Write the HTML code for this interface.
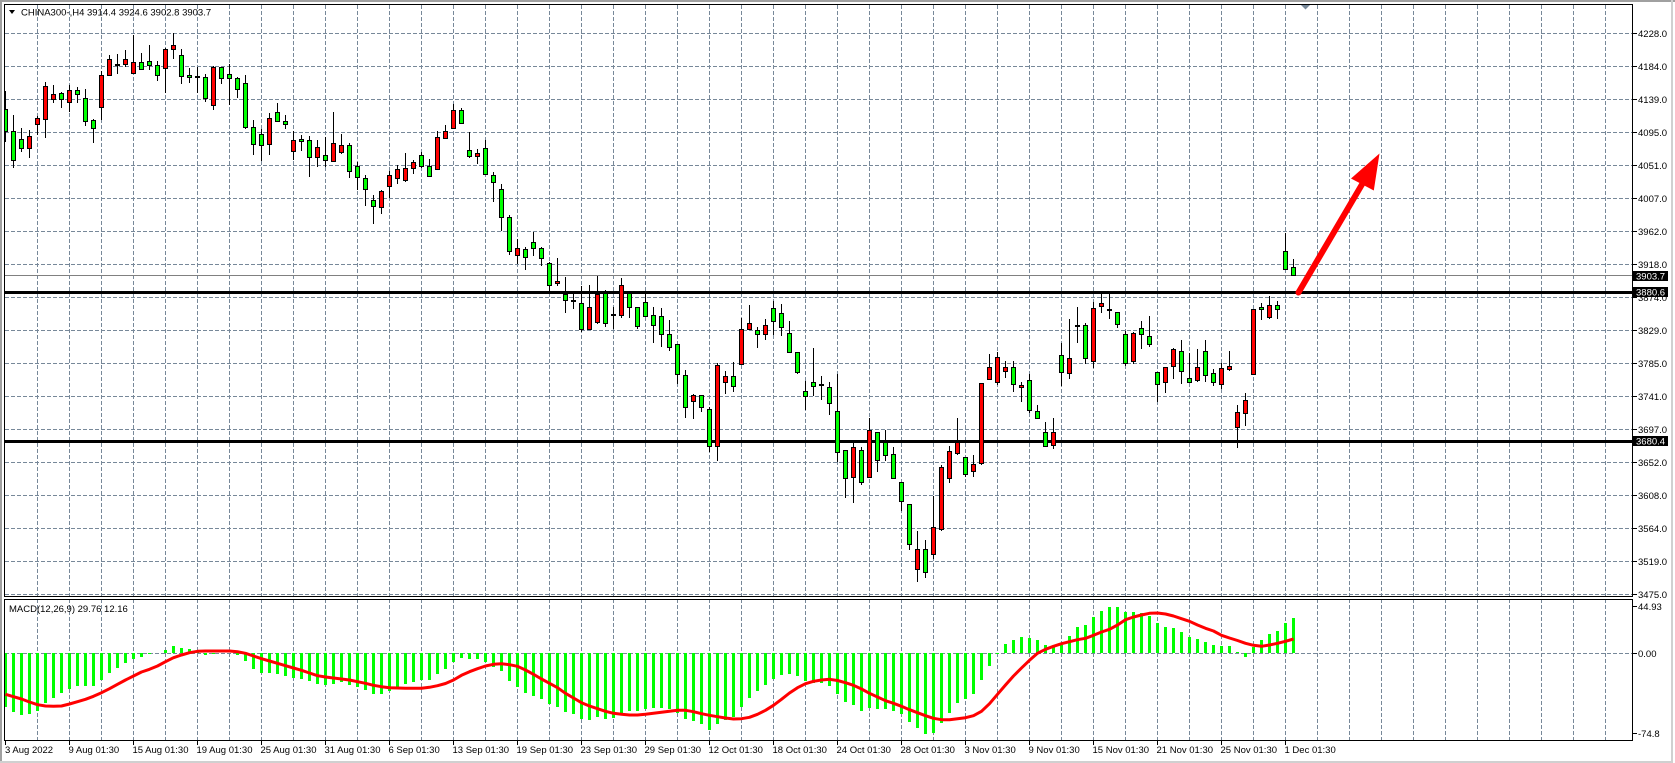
<!DOCTYPE html>
<html><head><meta charset="utf-8"><style>
html,body{margin:0;padding:0;background:#fff;}
svg{display:block;}
text{font-family:"Liberation Sans",sans-serif;font-size:9.5px;fill:#000;}
</style></head><body>
<svg width="1675" height="763" viewBox="0 0 1675 763" xmlns="http://www.w3.org/2000/svg">
<rect x="0" y="0" width="1675" height="763" fill="#fff"/>
<rect x="0" y="0" width="1675" height="2" fill="#a0a0a0"/>
<rect x="0" y="0" width="2" height="763" fill="#a0a0a0"/>
<rect x="1671" y="0" width="2" height="763" fill="#d0d0d0"/>
<rect x="0" y="761" width="1673" height="2" fill="#d0d0d0"/>

<!-- grid -->
<g stroke="#778899" stroke-width="1" stroke-dasharray="4,2" fill="none">
<path d="M37.5 5V740M69.5 5V740M101.5 5V740M133.5 5V740M165.5 5V740M197.5 5V740M229.5 5V740M261.5 5V740M293.5 5V740M325.5 5V740M357.5 5V740M389.5 5V740M421.5 5V740M453.5 5V740M485.5 5V740M517.5 5V740M549.5 5V740M581.5 5V740M613.5 5V740M645.5 5V740M677.5 5V740M709.5 5V740M741.5 5V740M773.5 5V740M805.5 5V740M837.5 5V740M869.5 5V740M901.5 5V740M933.5 5V740M965.5 5V740M997.5 5V740M1029.5 5V740M1061.5 5V740M1093.5 5V740M1125.5 5V740M1157.5 5V740M1189.5 5V740M1221.5 5V740M1253.5 5V740M1285.5 5V740M1317.5 5V740M1349.5 5V740M1381.5 5V740M1413.5 5V740M1445.5 5V740M1477.5 5V740M1509.5 5V740M1541.5 5V740M1573.5 5V740M1605.5 5V740"/>
<path d="M5 33.5H1632M5 66.5H1632M5 99.5H1632M5 132.5H1632M5 165.5H1632M5 198.5H1632M5 231.5H1632M5 264.5H1632M5 297.5H1632M5 330.5H1632M5 363.5H1632M5 396.5H1632M5 429.5H1632M5 462.5H1632M5 495.5H1632M5 528.5H1632M5 561.5H1632M5 594.5H1632M5 653.5H1632"/>
</g>
<rect x="5" y="597" width="1627" height="2" fill="#fff"/>

<!-- level lines -->
<rect x="5" y="275" width="1628" height="1" fill="#808080"/>
<rect x="5" y="291" width="1628" height="3" fill="#000"/>
<rect x="5" y="440" width="1628" height="3" fill="#000"/>

<!-- candles -->
<svg x="5" y="5" width="1627" height="591" viewBox="5 5 1627 591" overflow="hidden">
<path fill="none" stroke="#000" stroke-width="1" d="M5.5 91V142M13.5 115V168M21.5 128V152M29.5 130V158M37.5 116V135M45.5 82V138M53.5 85V103M61.5 92V108M69.5 85V112M77.5 87V103M85.5 89V126M93.5 119V143M101.5 71V120M109.5 55V75M117.5 54V74M125.5 50V67M133.5 35V73M141.5 53V70M149.5 45V70M157.5 61V81M165.5 48V93M173.5 33V59M181.5 49V84M189.5 68V83M197.5 67V93M205.5 74V102M213.5 66V110M221.5 67V84M229.5 64V105M237.5 77V98M245.5 75V129M253.5 120V155M261.5 129V161M269.5 113V155M277.5 103V122M285.5 115V129M293.5 131V160M301.5 135V151M309.5 136V177M317.5 140V167M325.5 137V167M333.5 112V162M341.5 134V154M349.5 143V178M357.5 162V190M365.5 175V206M373.5 195V224M381.5 190V214M389.5 171V198M397.5 165V184M405.5 153V182M413.5 160V174M421.5 152V168M429.5 159V177M437.5 131V170M445.5 125V138M453.5 104V128M461.5 108V124M469.5 132V158M477.5 149V164M485.5 140V175M493.5 172V202M501.5 184V231M509.5 215V255M517.5 239V264M525.5 247V270M533.5 232V256M541.5 247V266M549.5 262V291M557.5 258V286M565.5 277V313M573.5 294V309M581.5 286V332M589.5 285V330M597.5 276V324M605.5 290V327M613.5 307V329M621.5 278V318M629.5 291V318M637.5 307V329M645.5 294V317M653.5 307V343M661.5 308V347M669.5 320V351M677.5 344V384M685.5 370V418M693.5 394V419M701.5 395V412M709.5 407V452M717.5 363V461M725.5 371V394M733.5 362V392M741.5 318V364M749.5 305V330M757.5 327V348M765.5 319V340M773.5 301V335M781.5 304V336M789.5 321V352M797.5 352V374M805.5 381V410M813.5 348V396M821.5 376V400M829.5 382V415M837.5 374V462M845.5 450V498M853.5 442V503M861.5 447V485M869.5 418V477M877.5 432V472M885.5 430V461M893.5 447V479M901.5 482V511M909.5 504V550M917.5 531V582M925.5 540V578M933.5 496V559M941.5 465V531M949.5 446V483M957.5 418V455M965.5 457V477M973.5 455V477M981.5 383V465M989.5 354V379M997.5 352V385M1005.5 361V378M1013.5 361V392M1021.5 382V402M1029.5 374V413M1037.5 405V418M1045.5 422V447M1053.5 418V449M1061.5 343V386M1069.5 319V379M1077.5 307V343M1085.5 323V364M1093.5 302V368M1101.5 293V313M1109.5 293V319M1117.5 312V328M1125.5 331V366M1133.5 332V364M1141.5 321V349M1149.5 316V347M1157.5 372V402M1165.5 367V393M1173.5 348V379M1181.5 340V384M1189.5 353V383M1197.5 349V382M1205.5 340V382M1213.5 369V386M1221.5 363V389M1229.5 351V371M1237.5 405V448M1245.5 393V426M1253.5 309V374M1261.5 303V320M1269.5 296V319M1277.5 301V319M1285.5 233V270M1293.5 259V275"/>
<path fill="#000" d="M115 64h5v2h-5zM195 76h5v2h-5zM571 300h5v2h-5zM611 314h5v2h-5zM819 384h5v2h-5zM1075 325h5v2h-5zM1107 309h5v2h-5z"/>
<path fill="#00ff00" stroke="#000" stroke-width="1" d="M3.5 109.5h4v22h-4zM11.5 131.5h4v29h-4zM19.5 139.5h4v9h-4zM59.5 93.5h4v6h-4zM75.5 90.5h4v4h-4zM83.5 98.5h4v23h-4zM91.5 120.5h4v8h-4zM139.5 62.5h4v7h-4zM147.5 61.5h4v4h-4zM155.5 65.5h4v10h-4zM179.5 55.5h4v21h-4zM187.5 75.5h4v2h-4zM203.5 77.5h4v21h-4zM219.5 67.5h4v11h-4zM227.5 74.5h4v4h-4zM235.5 78.5h4v11h-4zM243.5 83.5h4v44h-4zM251.5 127.5h4v17h-4zM259.5 134.5h4v11h-4zM275.5 112.5h4v9h-4zM283.5 121.5h4v3h-4zM299.5 139.5h4v2h-4zM307.5 140.5h4v17h-4zM323.5 155.5h4v5h-4zM347.5 145.5h4v26h-4zM355.5 166.5h4v11h-4zM363.5 178.5h4v11h-4zM371.5 200.5h4v6h-4zM419.5 155.5h4v11h-4zM427.5 166.5h4v10h-4zM459.5 110.5h4v13h-4zM467.5 150.5h4v6h-4zM483.5 148.5h4v26h-4zM491.5 175.5h4v7h-4zM499.5 189.5h4v28h-4zM507.5 217.5h4v34h-4zM523.5 249.5h4v8h-4zM531.5 242.5h4v6h-4zM539.5 248.5h4v10h-4zM547.5 263.5h4v22h-4zM563.5 294.5h4v6h-4zM579.5 303.5h4v26h-4zM603.5 293.5h4v30h-4zM627.5 293.5h4v14h-4zM635.5 307.5h4v19h-4zM643.5 302.5h4v14h-4zM651.5 315.5h4v10h-4zM659.5 316.5h4v18h-4zM667.5 334.5h4v13h-4zM675.5 344.5h4v30h-4zM683.5 375.5h4v32h-4zM699.5 395.5h4v12h-4zM707.5 409.5h4v37h-4zM731.5 376.5h4v10h-4zM755.5 330.5h4v4h-4zM771.5 308.5h4v13h-4zM779.5 313.5h4v14h-4zM787.5 333.5h4v19h-4zM795.5 352.5h4v20h-4zM803.5 391.5h4v5h-4zM811.5 382.5h4v4h-4zM827.5 387.5h4v16h-4zM835.5 411.5h4v41h-4zM843.5 450.5h4v28h-4zM859.5 450.5h4v32h-4zM875.5 432.5h4v28h-4zM883.5 442.5h4v13h-4zM891.5 454.5h4v24h-4zM899.5 482.5h4v19h-4zM907.5 504.5h4v40h-4zM923.5 549.5h4v23h-4zM963.5 457.5h4v17h-4zM1011.5 367.5h4v17h-4zM1027.5 380.5h4v30h-4zM1035.5 411.5h4v7h-4zM1043.5 432.5h4v14h-4zM1059.5 355.5h4v17h-4zM1083.5 325.5h4v33h-4zM1115.5 312.5h4v12h-4zM1123.5 334.5h4v29h-4zM1139.5 328.5h4v6h-4zM1147.5 336.5h4v8h-4zM1155.5 372.5h4v12h-4zM1179.5 351.5h4v20h-4zM1187.5 378.5h4v4h-4zM1203.5 351.5h4v24h-4zM1211.5 373.5h4v9h-4zM1259.5 307.5h4v2h-4zM1275.5 305.5h4v4h-4zM1283.5 251.5h4v18h-4zM1291.5 267.5h4v8h-4z"/>
<path fill="#ff0000" stroke="#000" stroke-width="1" d="M27.5 136.5h4v12h-4zM35.5 118.5h4v6h-4zM43.5 86.5h4v33h-4zM51.5 94.5h4v5h-4zM67.5 90.5h4v12h-4zM99.5 75.5h4v32h-4zM107.5 59.5h4v16h-4zM123.5 59.5h4v5h-4zM131.5 62.5h4v11h-4zM163.5 49.5h4v19h-4zM171.5 45.5h4v4h-4zM211.5 67.5h4v38h-4zM267.5 118.5h4v26h-4zM291.5 140.5h4v11h-4zM315.5 147.5h4v10h-4zM331.5 143.5h4v18h-4zM339.5 145.5h4v7h-4zM379.5 191.5h4v16h-4zM387.5 175.5h4v11h-4zM395.5 169.5h4v9h-4zM403.5 168.5h4v12h-4zM411.5 162.5h4v6h-4zM435.5 137.5h4v32h-4zM443.5 131.5h4v7h-4zM451.5 110.5h4v18h-4zM475.5 153.5h4v3h-4zM515.5 248.5h4v7h-4zM555.5 281.5h4v2h-4zM587.5 307.5h4v22h-4zM595.5 294.5h4v28h-4zM619.5 285.5h4v30h-4zM691.5 395.5h4v6h-4zM715.5 365.5h4v81h-4zM723.5 376.5h4v6h-4zM739.5 329.5h4v35h-4zM747.5 323.5h4v6h-4zM763.5 325.5h4v9h-4zM851.5 447.5h4v30h-4zM867.5 430.5h4v47h-4zM915.5 549.5h4v20h-4zM931.5 527.5h4v27h-4zM939.5 467.5h4v62h-4zM947.5 451.5h4v27h-4zM955.5 442.5h4v11h-4zM971.5 464.5h4v7h-4zM979.5 383.5h4v80h-4zM987.5 367.5h4v12h-4zM995.5 357.5h4v25h-4zM1003.5 367.5h4v4h-4zM1019.5 385.5h4v2h-4zM1051.5 432.5h4v13h-4zM1067.5 358.5h4v15h-4zM1091.5 308.5h4v53h-4zM1099.5 303.5h4v3h-4zM1131.5 333.5h4v28h-4zM1163.5 367.5h4v15h-4zM1171.5 349.5h4v17h-4zM1195.5 367.5h4v13h-4zM1219.5 368.5h4v16h-4zM1227.5 366.5h4v3h-4zM1235.5 412.5h4v15h-4zM1243.5 400.5h4v13h-4zM1251.5 309.5h4v65h-4zM1267.5 305.5h4v12h-4z"/>
</svg>

<!-- MACD histogram -->
<path fill="#00ff00" d="M4 653h3V707h-3zM12 653h3V712h-3zM20 653h3V715h-3zM28 653h3V714h-3zM36 653h3V711h-3zM44 653h3V703h-3zM52 653h3V698h-3zM60 653h3V693h-3zM68 653h3V689h-3zM76 653h3V686h-3zM84 653h3V686h-3zM92 653h3V686h-3zM100 653h3V680h-3zM108 653h3V673h-3zM116 653h3V668h-3zM124 653h3V663h-3zM132 653h3V659h-3zM140 653h3V657h-3zM148 653h3V654h-3zM164 653h3V650h-3zM172 653h3V646h-3zM180 653h3V648h-3zM188 653h3V649h-3zM196 653h3V651h-3zM204 653h3V655h-3zM212 653h3V654h-3zM236 653h3V655h-3zM244 653h3V661h-3zM252 653h3V669h-3zM260 653h3V673h-3zM268 653h3V673h-3zM276 653h3V674h-3zM284 653h3V676h-3zM292 653h3V678h-3zM300 653h3V679h-3zM308 653h3V681h-3zM316 653h3V684h-3zM324 653h3V685h-3zM332 653h3V684h-3zM340 653h3V682h-3zM348 653h3V685h-3zM356 653h3V687h-3zM364 653h3V690h-3zM372 653h3V694h-3zM380 653h3V694h-3zM388 653h3V691h-3zM396 653h3V687h-3zM404 653h3V684h-3zM412 653h3V682h-3zM420 653h3V680h-3zM428 653h3V680h-3zM436 653h3V674h-3zM444 653h3V669h-3zM452 653h3V662h-3zM460 653h3V658h-3zM468 653h3V659h-3zM476 653h3V659h-3zM484 653h3V662h-3zM492 653h3V667h-3zM500 653h3V671h-3zM508 653h3V681h-3zM516 653h3V687h-3zM524 653h3V693h-3zM532 653h3V696h-3zM540 653h3V699h-3zM548 653h3V704h-3zM556 653h3V707h-3zM564 653h3V712h-3zM572 653h3V714h-3zM580 653h3V719h-3zM588 653h3V720h-3zM596 653h3V717h-3zM604 653h3V719h-3zM612 653h3V718h-3zM620 653h3V715h-3zM628 653h3V711h-3zM636 653h3V711h-3zM644 653h3V709h-3zM652 653h3V708h-3zM660 653h3V708h-3zM668 653h3V709h-3zM676 653h3V713h-3zM684 653h3V719h-3zM692 653h3V721h-3zM700 653h3V724h-3zM708 653h3V730h-3zM716 653h3V724h-3zM724 653h3V720h-3zM732 653h3V717h-3zM740 653h3V707h-3zM748 653h3V698h-3zM756 653h3V691h-3zM764 653h3V685h-3zM772 653h3V679h-3zM780 653h3V675h-3zM788 653h3V674h-3zM796 653h3V676h-3zM804 653h3V681h-3zM812 653h3V683h-3zM820 653h3V683h-3zM828 653h3V686h-3zM836 653h3V694h-3zM844 653h3V702h-3zM852 653h3V705h-3zM860 653h3V711h-3zM868 653h3V708h-3zM876 653h3V709h-3zM884 653h3V709h-3zM892 653h3V711h-3zM900 653h3V714h-3zM908 653h3V722h-3zM916 653h3V728h-3zM924 653h3V734h-3zM932 653h3V733h-3zM940 653h3V723h-3zM948 653h3V713h-3zM956 653h3V703h-3zM964 653h3V699h-3zM972 653h3V694h-3zM980 653h3V680h-3zM988 653h3V666h-3zM996 653h3V654h-3zM1004 653h3V644h-3zM1012 653h3V640h-3zM1020 653h3V637h-3zM1028 653h3V638h-3zM1036 653h3V640h-3zM1044 653h3V645h-3zM1052 653h3V646h-3zM1060 653h3V645h-3zM1068 653h3V636h-3zM1076 653h3V627h-3zM1084 653h3V625h-3zM1092 653h3V617h-3zM1100 653h3V611h-3zM1108 653h3V607h-3zM1116 653h3V607h-3zM1124 653h3V612h-3zM1132 653h3V612h-3zM1140 653h3V613h-3zM1148 653h3V616h-3zM1156 653h3V623h-3zM1164 653h3V627h-3zM1172 653h3V628h-3zM1180 653h3V632h-3zM1188 653h3V637h-3zM1196 653h3V639h-3zM1204 653h3V642h-3zM1212 653h3V645h-3zM1220 653h3V646h-3zM1228 653h3V646h-3zM1236 653h3V652h-3zM1244 653h3V657h-3zM1252 653h3V647h-3zM1260 653h3V640h-3zM1268 653h3V634h-3zM1276 653h3V631h-3zM1284 653h3V623h-3zM1292 653h3V618h-3z"/>

<!-- MACD signal -->
<polyline fill="none" stroke="#ff0000" stroke-width="3" stroke-linejoin="round" points="5.5,694.3 13.5,696.7 21.5,699 29.5,702 37.5,704.7 45.5,706 53.5,706.3 61.5,706 69.5,704 77.5,701.7 85.5,699.3 93.5,696.3 101.5,692.7 109.5,688.7 117.5,684.3 125.5,680 133.5,676 141.5,672 149.5,669.3 157.5,666 165.5,661.7 173.5,657.7 181.5,655 189.5,652.7 197.5,651.3 205.5,651 213.5,651 221.5,651 229.5,651 237.5,651.7 245.5,653.3 253.5,656 261.5,658.7 269.5,661 277.5,663.3 285.5,665.7 293.5,668 301.5,670.3 309.5,673 317.5,675.7 325.5,677 333.5,678 341.5,679 349.5,680 357.5,681.7 365.5,683.3 373.5,685.3 381.5,686.7 389.5,687.7 397.5,688 405.5,688.3 413.5,688.3 421.5,688.3 429.5,687.3 437.5,685.7 445.5,683.5 453.5,680 461.5,675.3 469.5,671.7 477.5,668.7 485.5,666 493.5,664.3 501.5,663.7 509.5,664.7 517.5,666.3 525.5,670 533.5,674.3 541.5,679 549.5,683.3 557.5,687.7 565.5,693.3 573.5,698 581.5,702.7 589.5,706 597.5,708.7 605.5,711.3 613.5,713.3 621.5,714.3 629.5,715 637.5,715 645.5,714.3 653.5,713.3 661.5,712.3 669.5,711.3 677.5,710.3 685.5,710.3 693.5,711.7 701.5,713.7 709.5,715.3 717.5,716.7 725.5,718 733.5,719 741.5,718.7 749.5,717.3 757.5,714.3 765.5,710.3 773.5,705.3 781.5,699.3 789.5,693 797.5,687.7 805.5,683.7 813.5,681.3 821.5,680 829.5,679.3 837.5,680.5 845.5,682.7 853.5,685.3 861.5,689 869.5,693.3 877.5,697 885.5,700.7 893.5,703.3 901.5,706.3 909.5,709.7 917.5,712.7 925.5,715.7 933.5,718.3 941.5,719.7 949.5,719.7 957.5,718.7 965.5,717.7 973.5,715.7 981.5,711.3 989.5,703.7 997.5,694.3 1005.5,685 1013.5,676 1021.5,668 1029.5,660.3 1037.5,653.3 1045.5,649.3 1053.5,646.3 1061.5,643.7 1069.5,641.7 1077.5,639.7 1085.5,638.3 1093.5,635.3 1101.5,632 1109.5,629.3 1117.5,625 1125.5,619.7 1133.5,617 1141.5,615 1149.5,613.3 1157.5,613 1165.5,614 1173.5,616 1181.5,618.7 1189.5,621.3 1197.5,625 1205.5,628.3 1213.5,631 1221.5,635.3 1229.5,638 1237.5,640.5 1245.5,643.3 1253.5,645.3 1261.5,646.3 1269.5,645 1277.5,643.3 1285.5,641.3 1293.5,639"/>

<!-- arrow -->
<line x1="1298.5" y1="292.5" x2="1364" y2="181" stroke="#ff0000" stroke-width="6" stroke-linecap="round"/>
<polygon points="1379.5,153.5 1351,178.5 1373.8,190.5" fill="#ff0000"/>

<!-- shift marker -->
<polygon points="1301,5 1310,5 1305.5,9.5" fill="#778899"/>

<!-- panel borders -->
<rect x="4.5" y="4.5" width="1628" height="592" fill="none" stroke="#000" stroke-width="1"/>
<rect x="4.5" y="599.5" width="1628" height="141" fill="none" stroke="#000" stroke-width="1"/>

<!-- axis ticks -->
<path stroke="#000" stroke-width="1" fill="none" d="M1633 33.5h4M1633 66.5h4M1633 99.5h4M1633 132.5h4M1633 165.5h4M1633 198.5h4M1633 231.5h4M1633 264.5h4M1633 297.5h4M1633 330.5h4M1633 363.5h4M1633 396.5h4M1633 429.5h4M1633 462.5h4M1633 495.5h4M1633 528.5h4M1633 561.5h4M1633 594.5h4M1633 606.5h4M1633 653.5h4M1633 733.5h4M5.5 741v4M69.5 741v4M133.5 741v4M197.5 741v4M261.5 741v4M325.5 741v4M389.5 741v4M453.5 741v4M517.5 741v4M581.5 741v4M645.5 741v4M709.5 741v4M773.5 741v4M837.5 741v4M901.5 741v4M965.5 741v4M1029.5 741v4M1093.5 741v4M1157.5 741v4M1221.5 741v4M1285.5 741v4"/>

<!-- price labels -->
<g>
<text x="1638" y="37">4228.0</text>
<text x="1638" y="70">4184.0</text>
<text x="1638" y="103">4139.0</text>
<text x="1638" y="136">4095.0</text>
<text x="1638" y="169">4051.0</text>
<text x="1638" y="202">4007.0</text>
<text x="1638" y="235">3962.0</text>
<text x="1638" y="268">3918.0</text>
<text x="1638" y="301">3874.0</text>
<text x="1638" y="334">3829.0</text>
<text x="1638" y="367">3785.0</text>
<text x="1638" y="400">3741.0</text>
<text x="1638" y="433">3697.0</text>
<text x="1638" y="466">3652.0</text>
<text x="1638" y="499">3608.0</text>
<text x="1638" y="532">3564.0</text>
<text x="1638" y="565">3519.0</text>
<text x="1638" y="598">3475.0</text>
<text x="1638" y="610">44.93</text>
<text x="1638" y="657">0.00</text>
<text x="1638" y="737">-74.8</text>
</g>
<rect x="1633" y="271" width="35" height="10" fill="#000"/>
<text x="1636" y="279.5" style="fill:#fff">3903.7</text>
<rect x="1633" y="287" width="35" height="10" fill="#000"/>
<text x="1636" y="295.5" style="fill:#fff">3880.6</text>
<rect x="1633" y="436" width="35" height="10" fill="#000"/>
<text x="1636" y="444.5" style="fill:#fff">3680.4</text>

<!-- date labels -->
<g>
<text x="5" y="753">3 Aug 2022</text>
<text x="68.5" y="753">9 Aug 01:30</text>
<text x="132.5" y="753">15 Aug 01:30</text>
<text x="196.5" y="753">19 Aug 01:30</text>
<text x="260.5" y="753">25 Aug 01:30</text>
<text x="324.5" y="753">31 Aug 01:30</text>
<text x="388.5" y="753">6 Sep 01:30</text>
<text x="452.5" y="753">13 Sep 01:30</text>
<text x="516.5" y="753">19 Sep 01:30</text>
<text x="580.5" y="753">23 Sep 01:30</text>
<text x="644.5" y="753">29 Sep 01:30</text>
<text x="708.5" y="753">12 Oct 01:30</text>
<text x="772.5" y="753">18 Oct 01:30</text>
<text x="836.5" y="753">24 Oct 01:30</text>
<text x="900.5" y="753">28 Oct 01:30</text>
<text x="964.5" y="753">3 Nov 01:30</text>
<text x="1028.5" y="753">9 Nov 01:30</text>
<text x="1092.5" y="753">15 Nov 01:30</text>
<text x="1156.5" y="753">21 Nov 01:30</text>
<text x="1220.5" y="753">25 Nov 01:30</text>
<text x="1284.5" y="753">1 Dec 01:30</text>
</g>

<!-- titles -->
<polygon points="9,10 15,10 12,14" fill="#000"/>
<text x="21" y="15.5">CHINA300-,H4  3914.4 3924.6 3902.8 3903.7</text>
<text x="9" y="612">MACD(12,26,9) 29.76 12.16</text>
</svg>
</body></html>
